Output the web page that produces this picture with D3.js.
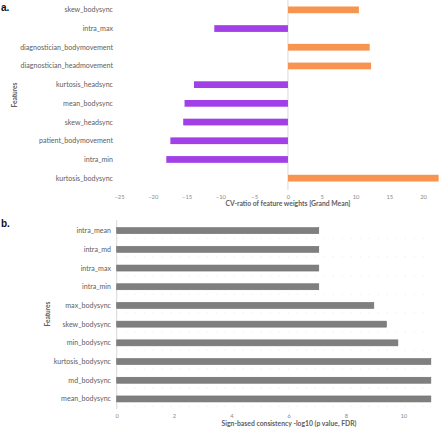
<!DOCTYPE html>
<html><head><meta charset="utf-8">
<script src="https://d3js.org/d3.v7.min.js"></script>
<style>body{margin:0;background:#fff}svg{display:block}text{font-family:Lato,"Open Sans",sans-serif}</style>
</head><body><svg id="c" width="440" height="427"></svg>
<script>
const aFeatures = ["skew_bodysync","intra_max","diagnostician_bodymovement","diagnostician_headmovement","kurtosis_headsync","mean_bodysync","skew_headsync","patient_bodymovement","intra_min","kurtosis_bodysync"];
const aValues = [10.5,-10.9,12.1,12.3,-13.9,-15.3,-15.5,-17.4,-18.0,22.3];
const aTicks = [-25,-20,-15,-10,-5,0,5,10,15,20];
const bFeatures = ["intra_mean","intra_md","intra_max","intra_min","max_bodysync","skew_bodysync","min_bodysync","kurtosis_bodysync","md_bodysync","mean_bodysync"];
const bValues = [7.05,7.05,7.05,7.05,8.97,9.41,9.81,10.96,10.96,10.96];
const bTicks = [0,2,4,6,8,10];

const svg = d3.select("#c");
const tickCol = "#8a8a8a", labCol = "#606060";

// Panel a
const xa = d3.scaleLinear().domain([-25,22.5]).range([119,440]);
const ya = d3.scaleBand().domain(aFeatures).range([0.5,187.5]).paddingInner(0.64).paddingOuter(0.32);
svg.append("line").attr("x1",xa(0)).attr("x2",xa(0)).attr("y1",0).attr("y2",190).attr("stroke","#d9d9d9").attr("stroke-width",1);
svg.append("g").selectAll("rect").data(aFeatures).join("rect")
  .attr("x",(d,i)=>Math.min(xa(0),xa(aValues[i])))
  .attr("width",(d,i)=>Math.abs(xa(aValues[i])-xa(0)))
  .attr("y",d=>ya(d)).attr("height",ya.bandwidth())
  .attr("fill",(d,i)=>aValues[i]<0?"#a040e6":"#f79550");
svg.append("g").selectAll("text").data(aFeatures).join("text")
  .attr("x",113).attr("y",d=>ya(d)+ya.bandwidth()/2).attr("dy","0.35em")
  .attr("text-anchor","end").attr("font-size",7.1).attr("fill",labCol).text(d=>d);
const axA = svg.append("g").attr("transform","translate(0,190)")
  .call(d3.axisBottom(xa).tickValues(aTicks).tickSize(0).tickPadding(5));
axA.select(".domain").remove();
axA.selectAll("text").attr("font-size",5.8).attr("fill",tickCol).style("font-family","Lato,sans-serif");
svg.append("text").attr("x",xa(0)).attr("y",206).attr("text-anchor","middle").attr("font-size",6.8).attr("font-weight","bold").attr("fill",labCol).text("CV-ratio of feature weights [Grand Mean]");
svg.append("text").attr("transform","translate(17,95) rotate(-90)").attr("text-anchor","middle").attr("font-size",6.5).attr("font-weight","bold").attr("fill",labCol).text("Features");
svg.append("text").attr("x",1).attr("y",11).attr("font-size",10).attr("font-weight","bold").attr("fill","#111").style("font-family","'Liberation Sans',Arial,sans-serif").text("a.");

// Panel b
const xb = d3.scaleLinear().domain([0,11]).range([116.7,432]);
const yb = d3.scaleBand().domain(bFeatures).range([221.3,408.3]).paddingInner(0.68).paddingOuter(0.34);
svg.append("g").selectAll("line").data(bFeatures).join("line")
  .attr("x1",xb(0)).attr("x2",xb(11)).attr("y1",d=>yb(d)+yb.bandwidth()+4.5).attr("y2",d=>yb(d)+yb.bandwidth()+4.5)
  .attr("stroke","#e2e2e2").attr("stroke-width",0.8).attr("stroke-dasharray","1,8");
svg.append("line").attr("x1",xb(0)).attr("x2",xb(0)).attr("y1",220).attr("y2",409).attr("stroke","#d9d9d9");
svg.append("g").selectAll("rect").data(bFeatures).join("rect")
  .attr("x",xb(0)).attr("width",(d,i)=>xb(bValues[i])-xb(0))
  .attr("y",d=>yb(d)).attr("height",yb.bandwidth())
  .attr("fill","#7f7f7f").attr("stroke","#6e6e6e").attr("stroke-width",0.6);
svg.append("g").selectAll("text").data(bFeatures).join("text")
  .attr("x",111).attr("y",d=>yb(d)+yb.bandwidth()/2).attr("dy","0.35em")
  .attr("text-anchor","end").attr("font-size",7.1).attr("fill",labCol).text(d=>d);
const axB = svg.append("g").attr("transform","translate(0,409)")
  .call(d3.axisBottom(xb).tickValues(bTicks).tickSize(0).tickPadding(5));
axB.select(".domain").remove();
axB.selectAll("text").attr("font-size",5.8).attr("fill",tickCol).style("font-family","Lato,sans-serif");
svg.append("text").attr("x",289).attr("y",425.5).attr("text-anchor","middle").attr("font-size",6.8).attr("font-weight","bold").attr("fill",labCol).text("Sign-based consistency -log10 (p value, FDR)");
svg.append("text").attr("transform","translate(50,314) rotate(-90)").attr("text-anchor","middle").attr("font-size",6.5).attr("font-weight","bold").attr("fill",labCol).text("Features");
svg.append("text").attr("x",1).attr("y",227).attr("font-size",10).attr("font-weight","bold").attr("fill","#111").style("font-family","'Liberation Sans',Arial,sans-serif").text("b.");
</script></body></html>
